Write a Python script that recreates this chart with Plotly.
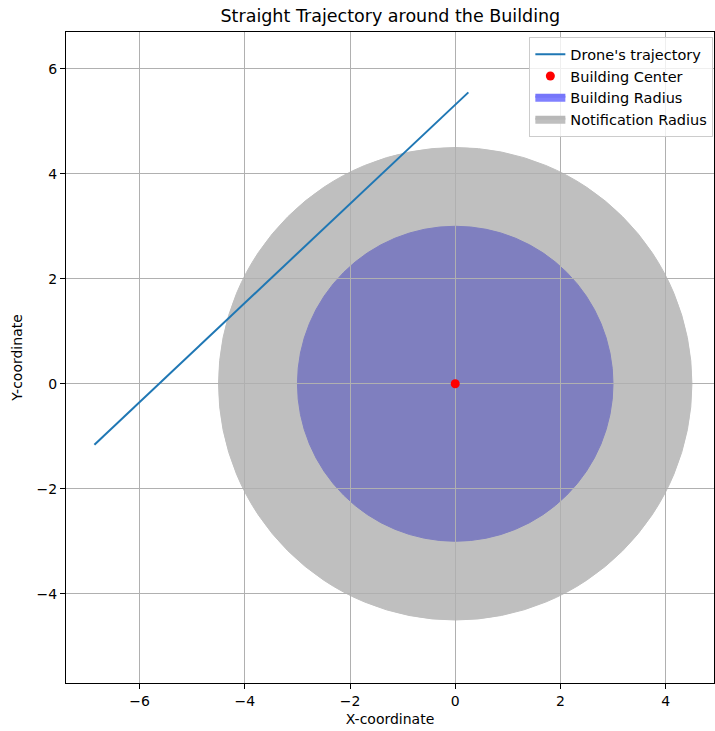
import plotly.graph_objects as go

# Data
traj_x = [-6.86, 0.25]
traj_y = [-1.16, 5.55]
center_x = [0.0]
center_y = [0.0]
building_radius = 3.0
notification_radius = 4.5
x_ticks = [-6, -4, -2, 0, 2, 4]
y_ticks = [-4, -2, 0, 2, 4, 6]

FONT = "DejaVu Sans"

fig = go.Figure()

fig.add_trace(go.Scatter(x=traj_x, y=traj_y, mode="lines", name="Drone's trajectory",
                         line=dict(color="#1f77b4", width=2), legendrank=1))
fig.add_trace(go.Scatter(x=center_x, y=center_y, mode="markers", name="Building Center",
                         marker=dict(color="red", size=9), legendrank=2))
# legend-only entries for the circle patches
fig.add_trace(go.Scatter(x=[None], y=[None], mode="lines", fill="toself", name="Building Radius",
                         fillcolor="rgba(128,128,255,1)", line=dict(color="rgba(118,118,250,1)", width=4),
                         legendrank=3))
fig.add_trace(go.Scatter(x=[None], y=[None], mode="lines", fill="toself", name="Notification Radius",
                         fillcolor="rgba(191,191,191,1)", line=dict(color="rgba(184,184,184,1)", width=4),
                         legendrank=4))

# circles: blue first, gray on top (both semi-transparent), below gridlines
fig.add_shape(type="circle", xref="x", yref="y",
              x0=center_x[0] - building_radius, x1=center_x[0] + building_radius,
              y0=center_y[0] - building_radius, y1=center_y[0] + building_radius,
              fillcolor="blue", opacity=0.5, line=dict(color="blue", width=1),
              layer="below")
fig.add_shape(type="circle", xref="x", yref="y",
              x0=center_x[0] - notification_radius, x1=center_x[0] + notification_radius,
              y0=center_y[0] - notification_radius, y1=center_y[0] + notification_radius,
              fillcolor="gray", opacity=0.5, line=dict(color="gray", width=1),
              layer="below")

axis_common = dict(showline=True, linecolor="black", linewidth=1, mirror=True,
                   ticks="outside", ticklen=5, tickcolor="black", showgrid=True,
                   gridcolor="#b0b0b0", gridwidth=1, zeroline=False,
                   tickfont=dict(family=FONT, size=14, color="black"))

fig.update_layout(
    width=715, height=731,
    margin=dict(l=66, r=1, t=32, b=48),
    paper_bgcolor="white", plot_bgcolor="white",
    font=dict(family=FONT, size=14, color="black"),
    title=dict(text="Straight Trajectory around the Building", x=0.546, xanchor="center",
               y=0.978, yanchor="middle", font=dict(family=FONT, size=17.5, color="black")),
    xaxis=dict(range=[-7.40, 4.92], tickvals=x_ticks,
               title=dict(text="X-coordinate", font=dict(family=FONT, size=14), standoff=6),
               **axis_common),
    yaxis=dict(range=[-5.70, 6.70], tickvals=y_ticks,
               title=dict(text="Y-coordinate", font=dict(family=FONT, size=14), standoff=10),
               **axis_common),
    legend=dict(x=0.999, y=0.992, xanchor="right", yanchor="top",
                bgcolor="rgba(255,255,255,0.8)", bordercolor="#cccccc", borderwidth=1,
                font=dict(family=FONT, size=14.5), tracegroupgap=0, itemwidth=30),
    showlegend=True,
)

fig.write_html("out.html")
